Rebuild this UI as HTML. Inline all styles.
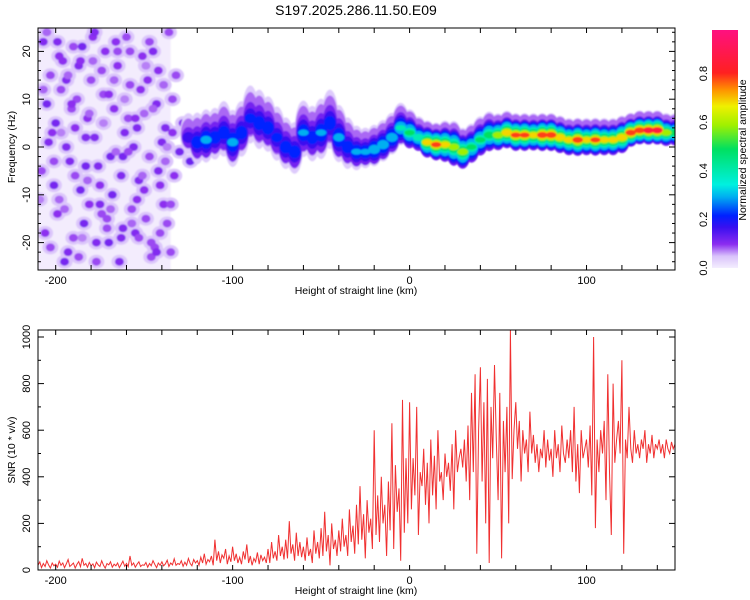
<!DOCTYPE html>
<html><head><meta charset="utf-8"><style>
html,body{margin:0;padding:0;background:#fff;}
svg{display:block;font-family:"Liberation Sans",sans-serif;}
</style></head><body>
<svg id="chart" width="750" height="600" viewBox="0 0 750 600" xmlns="http://www.w3.org/2000/svg">
<defs>
<clipPath id="clipTop"><rect x="38" y="28" width="637" height="242"/></clipPath>
<clipPath id="clipBot"><rect x="38" y="330" width="637" height="240"/></clipPath>
<filter id="soft" x="-5%" y="-5%" width="110%" height="110%"><feGaussianBlur stdDeviation="0.8"/></filter>
<linearGradient id="cbgrad" x1="0" y1="1" x2="0" y2="0">
<stop offset="0" stop-color="#f4eefe"/><stop offset="0.05" stop-color="#d9c2fb"/><stop offset="0.1" stop-color="#8b2cf0"/>
<stop offset="0.17" stop-color="#3a10f0"/><stop offset="0.22" stop-color="#0020ff"/><stop offset="0.3" stop-color="#00b0f0"/>
<stop offset="0.35" stop-color="#00f0e0"/><stop offset="0.5" stop-color="#00e060"/><stop offset="0.6" stop-color="#a0f000"/>
<stop offset="0.68" stop-color="#f0f000"/><stop offset="0.75" stop-color="#ff9000"/><stop offset="0.82" stop-color="#ff2020"/>
<stop offset="1" stop-color="#ff1080"/></linearGradient>
</defs>
<text x="356" y="15" font-size="14" text-anchor="middle" fill="#000">S197.2025.286.11.50.E09</text>
<g id="topPlot"></g>
<g id="colorbar">
<rect x="712" y="30" width="26" height="238" fill="url(#cbgrad)"/>
</g>
<g id="botPlot"></g>
</svg>
<script>
// ---------- data ----------
const xDomain = [-210, 150];
const fDomain = [-25, 25];
const snrDomain = [0, 1030];
const xTickLabels = [-200, -100, 0, 100];
const fTickLabels = [-20, -10, 0, 10, 20];
const snrTickLabels = [0, 200, 400, 600, 800, 1000];
const cbTickLabels = [0.0, 0.2, 0.4, 0.6, 0.8];
// ridge of spectrogram
const ridgeX = [-125,-120,-115,-110,-105,-100,-95,-90,-85,-80,-75,-70,-65,-60,-55,-50,-45,-40,-35,-30,-25,-20,-15,-10,-5,0,5,10,15,20,25,30,35,40,45,50,55,60,65,70,75,80,85,90,95,100,105,110,115,120,125,130,135,140,145,150];
const ridgeFreq = [2,1,1.5,2,3,1,3,6,5,4,2,0,-1,3,2,3,5,2,0,-1,-1,-0.5,0.5,2,4,3,2,1,0.5,0.5,0,-1,0,1.5,2.5,2.5,3,2.5,2.5,2.5,2.5,2.5,2,1.5,1.5,1.5,1.5,1.5,1.5,2,3,3.5,3.5,3.5,3,3];
const ridgeAmp = [0.2,0.27,0.32,0.27,0.27,0.32,0.27,0.24,0.27,0.27,0.24,0.27,0.27,0.3,0.27,0.3,0.27,0.32,0.27,0.3,0.3,0.35,0.35,0.35,0.4,0.5,0.45,0.7,0.8,0.7,0.65,0.65,0.5,0.5,0.55,0.65,0.75,0.8,0.8,0.7,0.85,0.85,0.75,0.7,0.85,0.7,0.8,0.7,0.7,0.75,0.85,0.85,0.9,0.9,0.65,0.55];
const ridgeSpread = [5,6,6,6,6.5,6.5,6.5,7,7,6.5,6.5,6,6,6.5,6.5,7,7,6.5,6,5,4.5,4.5,4.5,4.5,4.5,4,3.5,3.5,3.5,4,4.5,4,4,4,4,3.5,3.5,3.5,3.5,3.5,3.5,3.5,3.5,3.5,3.5,3.5,3.5,3.5,3.5,3.5,3,3,3,3,3,3];
// scattered noise blobs (left region)
const noiseX = [-207,-203,-200,-196,-192,-188,-185,-181,-178,-174,-170,-167,-163,-160,-156,-152,-149,-145,-141,-138,-135,-132,
 -206,-201,-197,-193,-189,-184,-180,-176,-172,-168,-164,-159,-155,-151,-147,-143,-139,-136,-133,
 -205,-199,-194,-190,-186,-182,-177,-173,-169,-165,-161,-157,-153,-148,-144,-140,-137,
 -204,-198,-195,-191,-187,-183,-179,-175,-171,-166,-162,-158,-154,-150,-146,-142,-134,-130,-128,-124,-118,-112,
 -208,-202,-198,-194,-190,-186,-182,-178,-174,-170,-166,-162,-158,-154,-150,-146,-142,-138,-134,
 -207,-203,-199,-195,-191,-187,-183,-179,-175,-171,-167,-163,-159,-155,-151,-147,-143,-139,-135,
 -209,-205,-201,-197,-193,-189,-185,-181,-177,-173,-169,-165,-161,-157,-153,-149,-145,-141,-137];
const noiseFreq = [22,15,5,18,-3,10,21,-12,2,16,-20,8,-6,23,0,12,-15,20,-8,4,-22,15,
 -18,-8,12,-22,4,-16,14,-4,20,-10,-24,6,-18,19,-2,9,-12,24,-6,
 9,-14,0,21,-9,6,-20,11,-2,17,3,-13,-7,14,-21,1,-16,
 1,19,-24,8,17,-4,23,-12,-17,22,-2,13,4,-9,-23,-5,3,-1,5,-3,2,0,
 -5,3,-11,14,-19,18,-7,24,-14,11,-1,-17,20,-11,7,-20,16,-3,10,
 12,-21,22,-13,9,-23,2,18,-8,-15,14,-19,-1,6,-6,22,-22,13,-12,
 -11,24,-3,3,15,-6,-19,7,-24,5,-13,20,10,-16,-19,17,8,-18,0];
const noiseAmp = [0.12,0.1,0.13,0.11,0.12,0.1,0.13,0.11,0.12,0.1,0.13,0.11,0.12,0.1,0.12,0.11,0.1,0.12,0.11,0.12,0.1,0.1,
 0.11,0.13,0.1,0.12,0.11,0.13,0.1,0.12,0.11,0.13,0.12,0.1,0.12,0.11,0.1,0.12,0.11,0.1,0.11,
 0.13,0.11,0.12,0.1,0.13,0.11,0.12,0.1,0.13,0.11,0.12,0.1,0.12,0.11,0.1,0.12,0.1,
 0.12,0.11,0.13,0.1,0.12,0.13,0.11,0.12,0.1,0.11,0.13,0.1,0.12,0.11,0.1,0.12,0.11,0.13,0.12,0.14,0.15,0.17,
 0.1,0.11,0.09,0.12,0.1,0.11,0.09,0.12,0.1,0.11,0.09,0.12,0.1,0.11,0.09,0.1,0.11,0.09,0.1,
 0.09,0.1,0.12,0.09,0.11,0.1,0.12,0.09,0.11,0.1,0.09,0.12,0.1,0.11,0.09,0.1,0.12,0.09,0.1,
 0.08,0.09,0.1,0.08,0.09,0.1,0.08,0.09,0.1,0.08,0.09,0.1,0.08,0.09,0.1,0.08,0.09,0.1,0.08];
// SNR series, x from -210 step 1 km
const snrStart = -210;
const snrStep = 1;
const snrValues = [
 20,35,10,28,15,40,22,8,30,18, 25,12,38,20,30,10,26,45,15,22,
 30,8,24,36,14,50,20,28,12,32, 18,26,10,34,22,15,40,20,8,28,
 22,35,12,25,18,30,10,24,38,16, 28,14,60,20,30,12,25,35,15,22,
 20,32,12,28,18,40,24,10,30,20, 35,18,26,42,15,30,22,48,20,28,
 24,40,16,34,20,50,28,18,45,30,
 40,20,55,30,70,25,45,35,60,20, 130,40,80,30,65,50,90,25,60,35,
 100,40,70,30,55,25,80,45,110,30, 60,20,50,35,75,25,65,40,55,30,
 90,30,120,50,80,40,150,60,100,45, 130,50,210,70,110,40,160,60,120,55,
 100,40,140,60,90,30,170,70,120,50, 180,60,250,80,150,20,200,90,130,60,
 170,80,220,100,150,60,260,120,190,70, 280,110,360,130,240,50,300,160,220,90,
 600,150,320,120,400,200,280,60,380,170, 630,90,450,250,350,40,730,160,480,200,
 720,260,480,320,700,150,420,360,520,280, 460,200,560,320,490,260,600,380,420,300,
 500,400,460,340,540,260,600,420,480,520, 440,560,380,620,300,760,420,840,70,600,
 870,380,720,200,820,30,700,480,880,560, 300,760,50,640,420,700,200,1030,390,600,
 720,520,640,380,600,500,560,420,680,500, 580,460,540,420,520,480,600,440,560,470,
 520,400,600,480,540,420,620,500,460,560, 480,600,420,700,380,540,330,600,480,520,
 560,440,620,320,1000,180,560,420,600,500, 640,300,840,420,150,800,460,560,640,500,
 900,70,560,480,700,520,460,600,500,540, 480,560,520,600,460,540,500,580,480,540,
 520,560,500,540,480,560,520,500,550,520,540];

// ---------- helpers ----------
const NS = 'http://www.w3.org/2000/svg';
const X0 = 38, X1 = 675, TY0 = 28, TY1 = 270, BY0 = 330, BY1 = 570;
function xs(v){ return X0 + (v - xDomain[0]) / (xDomain[1] - xDomain[0]) * (X1 - X0); }
function ys(f){ return 147 - f * 4.78; }
function yb(v){ return BY1 - v * 0.233; }
const cmapStops = [[0,[244,238,254]],[0.05,[217,194,251]],[0.1,[139,44,240]],[0.17,[58,16,240]],[0.22,[0,32,255]],[0.3,[0,176,240]],[0.35,[0,240,224]],[0.5,[0,224,96]],[0.6,[160,240,0]],[0.68,[240,240,0]],[0.75,[255,144,0]],[0.82,[255,32,32]],[1,[255,16,128]]];
function cmap(v){
  for (let i=1;i<cmapStops.length;i++){
    if (v <= cmapStops[i][0]){
      const a=cmapStops[i-1], b=cmapStops[i], t=(v-a[0])/(b[0]-a[0]);
      const c=a[1].map((q,k)=>Math.round(q+(b[1][k]-q)*t));
      return 'rgb('+c.join(',')+')';
    }
  }
  return 'rgb(255,16,128)';
}
function mk(tag, attrs, parent){
  const el = document.createElementNS(NS, tag);
  for (const k in attrs) el.setAttribute(k, attrs[k]);
  parent.appendChild(el);
  return el;
}
function txt(parent, x, y, s, size, anchor, rot){
  const t = mk('text', {x:x, y:y, 'font-size':size, 'text-anchor':anchor, fill:'#000'}, parent);
  if (rot) t.setAttribute('transform', 'rotate(' + rot + ' ' + x + ' ' + y + ')');
  t.textContent = s;
  return t;
}

// ---------- top spectrogram ----------
const topG = document.getElementById('topPlot');
const heat = mk('g', {'clip-path':'url(#clipTop)', filter:'url(#soft)'}, topG);


mk('rect', {x:xs(-210), y:TY0, width:xs(-135)-xs(-210), height:TY1-TY0, fill:'#f3ecfd'}, heat);
noiseX.forEach((x,i)=>{
  const e = mk('ellipse', {cx:xs(x), cy:ys(noiseFreq[i]), rx:8, ry:7, fill:cmap(0.045)}, heat);
  
  
});
noiseX.forEach((x,i)=>{
  const a = noiseAmp[i];
  const e = mk('ellipse', {cx:xs(x), cy:ys(noiseFreq[i]), rx:4.5, ry:4, fill:cmap(a*0.9)}, heat);
  
  
});
const levels = [0.04,0.08,0.12,0.17,0.22,0.3,0.4,0.5,0.6,0.7,0.8,0.88];
levels.forEach(L=>{
  ridgeX.forEach((x,i)=>{
    const a = ridgeAmp[i];
    if (L > a) return;
    const frac = 1 - L / (a + 0.02);
    const ry = ridgeSpread[i] * 4.78 * Math.pow(frac, 1.4) + 2.5;
    const rx = 5 + 4 * frac;
    const e = mk('ellipse', {cx:xs(x), cy:ys(ridgeFreq[i] + (L < 0.1 ? 0.8 : 0)), rx:rx, ry:ry, fill:cmap(L)}, heat);
    
    
  });
});
function frame(parent, y0, y1, yTicksMinor, yMajor, ymap, xlabelY){
  mk('rect', {x:X0, y:y0, width:X1-X0, height:y1-y0, fill:'none', stroke:'#000', 'stroke-width':1}, parent);
  for (let v=-200; v<=140; v+=20){
    const x = xs(v);
    mk('line', {x1:x, y1:y1, x2:x, y2:y1-5, stroke:'#000'}, parent);
    mk('line', {x1:x, y1:y0, x2:x, y2:y0+5, stroke:'#000'}, parent);
  }
  yTicksMinor.forEach(v=>{
    const y = ymap(v), len = yMajor(v) ? 6 : 3;
    mk('line', {x1:X0, y1:y, x2:X0+len, y2:y, stroke:'#000'}, parent);
    mk('line', {x1:X1, y1:y, x2:X1-len, y2:y, stroke:'#000'}, parent);
  });
  xTickLabels.forEach(v=>{
    const t = txt(parent, xs(v), xlabelY, String(v), 11, 'middle');
    
    
  });
  const xt = txt(parent, 356, xlabelY + 10, 'Height of straight line (km)', 10.5, 'middle');
  
  
}
const fMinor = []; for (let f=-24; f<=24; f+=2) fMinor.push(f);
frame(topG, TY0, TY1, fMinor, v=>v%10===0, ys, 284);
fTickLabels.forEach(v=>{
  const t = txt(topG, 30, ys(v), String(v), 11, 'middle', -90);
  
  
});
const yt1 = txt(topG, 15, 147, 'Frequency (Hz)', 10.5, 'middle', -90);



// ---------- colorbar ----------
const cbG = document.getElementById('colorbar');
cbTickLabels.forEach(v=>{
  const y = 268 - v * 243;
  const t = txt(cbG, 707, y, v.toFixed(1), 11, 'middle', -90);
  
  
});
const cbt = txt(cbG, 746, 150, 'Normalized spectral amplitude', 10.5, 'middle', -90);



// ---------- bottom SNR ----------
const botG = document.getElementById('botPlot');
const pts = snrValues.map((v,i)=> xs(snrStart + i*snrStep).toFixed(1) + ',' + yb(v).toFixed(1)).join(' ');
const line = mk('polyline', {points:pts, fill:'none', stroke:'#f03030', 'stroke-width':1, 'clip-path':'url(#clipBot)'}, botG);


const sMinor = []; for (let v=0; v<=1000; v+=100) sMinor.push(v);
frame(botG, BY0, BY1, sMinor, v=>v%200===0, yb, 584);
snrTickLabels.forEach(v=>{
  const t = txt(botG, 30, yb(v), String(v), 11, 'middle', -90);
  
  
});
const yt2 = txt(botG, 15, 450, 'SNR (10 * v/v)', 10.5, 'middle', -90);


</script>
</body></html>
